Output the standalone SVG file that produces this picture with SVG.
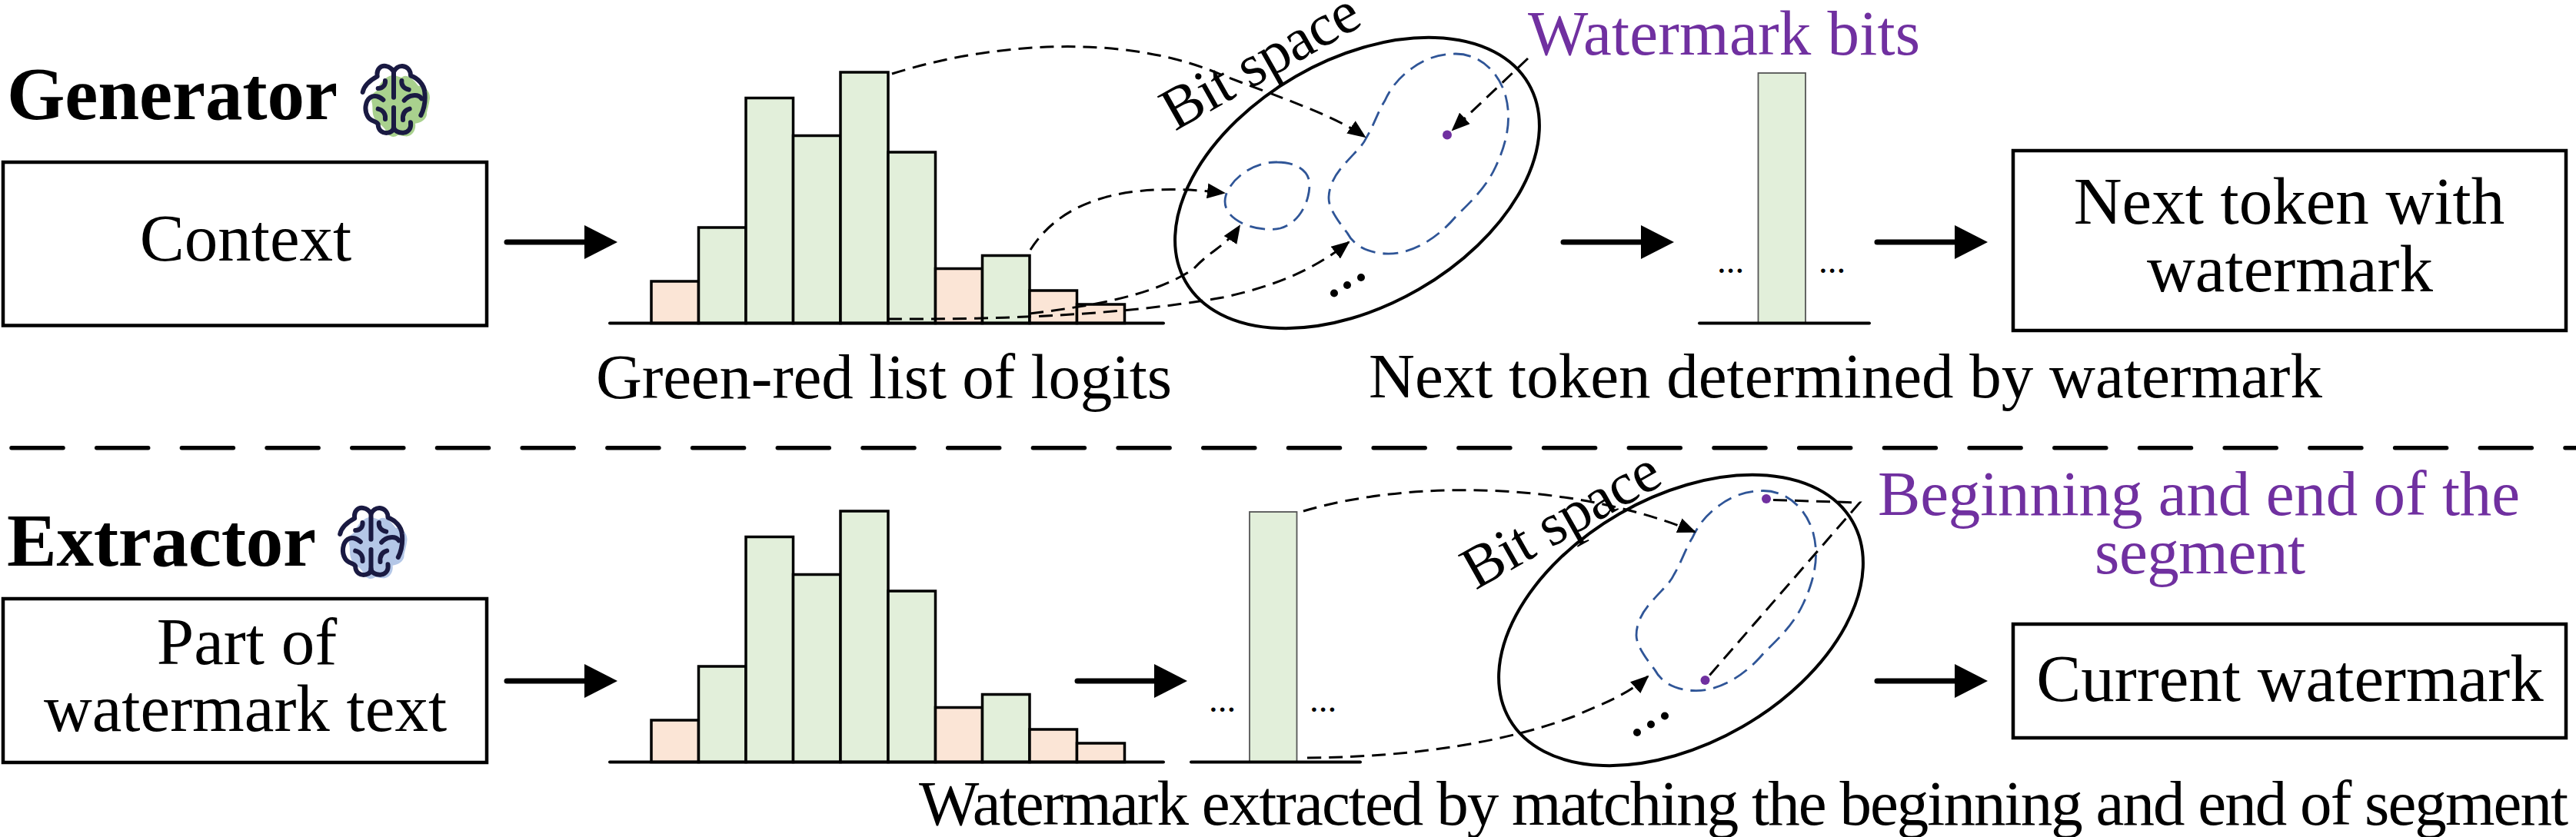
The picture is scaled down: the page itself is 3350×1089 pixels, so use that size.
<svg xmlns="http://www.w3.org/2000/svg" xmlns:xlink="http://www.w3.org/1999/xlink" width="3350" height="1089" viewBox="0 0 3350 1089">
<style>
text{font-family:"Liberation Serif","Times New Roman",serif;fill:#000}
.box{fill:#fff;stroke:#000;stroke-width:4.5}
.t87{font-size:87px;text-anchor:middle}
.cap{font-size:83px}
.bit{font-size:78px}
.head{font-size:97px;font-weight:bold}
.pur{fill:#7030A0;font-size:83px}
.g{fill:#E2EFDA;stroke:#000;stroke-width:3.5}
.o{fill:#FBE5D6;stroke:#000;stroke-width:3.5}
.sg{fill:#E2EFDA;stroke:#555;stroke-width:1.8}
.ax{fill:none;stroke:#000;stroke-width:4;stroke-linecap:round}
.ell{fill:none;stroke:#000;stroke-width:4}
.blue{fill:none;stroke:#2F5597;stroke-width:2.8;stroke-dasharray:20 10}
.dash{fill:none;stroke:#000;stroke-width:3;stroke-dasharray:18 10}
.arr{fill:none;stroke:#000;stroke-width:3;stroke-dasharray:18 10;marker-end:url(#tip)}
.big{fill:none;stroke:#000;stroke-width:7;stroke-linecap:round;marker-end:url(#bigtip)}
.brain{fill:none;stroke:#1A1A42;stroke-width:18;stroke-linecap:round;stroke-linejoin:round}
.dot{fill:#7030A0}
.blk{fill:#000}
.dots{font-size:47px}
</style>
<defs>
<marker id="tip" markerUnits="userSpaceOnUse" viewBox="0 0 24 20" markerWidth="24" markerHeight="20" refX="22" refY="10" orient="auto"><path d="M0,0L24,10L0,20Z" fill="#000"/></marker>
<marker id="bigtip" markerUnits="userSpaceOnUse" viewBox="0 0 43 44" markerWidth="43" markerHeight="44" refX="0" refY="22" orient="auto"><path d="M0,0L43,22L0,44Z" fill="#000"/></marker>
<g id="hist">
<rect class="o" x="847" y="366" width="61.5" height="54.5"/>
<rect class="g" x="908.5" y="296" width="61.5" height="124.5"/>
<rect class="g" x="970" y="127.5" width="61.5" height="293"/>
<rect class="g" x="1031.5" y="176.5" width="61.5" height="244"/>
<rect class="g" x="1093" y="94" width="62" height="326.5"/>
<rect class="g" x="1155" y="198" width="61.5" height="222.5"/>
<rect class="o" x="1216.5" y="349.5" width="61" height="71"/>
<rect class="g" x="1277.5" y="332.5" width="61.5" height="88"/>
<rect class="o" x="1339" y="378" width="61.5" height="42.5"/>
<rect class="o" x="1400.5" y="396" width="62" height="24.5"/>
<path class="ax" d="M793,420.500H1513"/>
</g>
<path id="blob" d="M205,85C225,78 240,98 250,90C275,75 300,110 312,125C340,125 362,150 356,180C353,200 348,215 345,230C348,255 320,270 300,272C305,300 285,325 262,322C245,320 238,315 232,318C215,330 195,322 188,305C180,285 160,275 146,258C130,240 135,215 132,195C125,170 130,155 150,145C160,115 185,90 205,85Z"/>
<g id="brainlines" class="brain">
<path d="M95,150C100,125 120,105 152,88C148,60 165,45 185,48C200,50 210,60 216,70C222,58 235,47 250,48C270,50 282,65 282,85C310,95 335,120 337,150C340,180 335,215 322,240"/>
<path d="M216,70V170"/>
<path d="M155,135C175,135 185,120 183,105"/>
<path d="M275,140C255,135 245,122 247,105"/>
<path d="M175,180C160,165 140,160 125,170C105,185 100,220 115,245C125,265 150,262 155,275C155,300 175,312 195,308C210,305 216,295 216,285V210"/>
<path d="M257,182C275,160 310,155 325,175"/>
<path d="M216,285C216,300 235,310 255,308C275,305 285,290 282,268"/>
<path d="M155,215C175,220 185,235 183,255"/>
<path d="M278,215C260,220 250,235 252,258"/>
</g>
<path id="bigblob" d="M1893,70C1925,70 1950,95 1958,125C1966,155 1960,185 1945,217C1932,245 1913,262 1893,282C1865,315 1830,332 1801,330C1775,328 1760,318 1752,303C1738,285 1728,270 1728,258C1728,240 1738,225 1749,213C1762,198 1772,190 1777,179C1788,160 1792,145 1801,131C1808,115 1820,100 1836,89C1850,78 1870,70 1893,70Z"/>
</defs>

<g id="generator-label">
<text class="head" x="9" y="155" textLength="430">Generator</text>
<g transform="translate(440,70) scale(.3333)"><use xlink:href="#blob" href="#blob" fill="#A9D18E"/><use xlink:href="#brainlines" href="#brainlines"/></g>
</g>
<g id="context"><rect class="box" x="4" y="211" width="629" height="212.500"/><text class="t87" x="319.500" y="339">Context</text></g>
<g id="logits-top"><use xlink:href="#hist" href="#hist"/><text class="cap" x="775" y="518" textLength="749">Green-red list of logits</text></g>
<g id="bitspace-top">
<ellipse class="ell" cx="1765" cy="238" rx="257.500" ry="160" transform="rotate(-30 1765 238)"/>
<use xlink:href="#bigblob" href="#bigblob" class="blue"/>
<path class="blue" d="M1661,211C1685,211 1703,222 1703,240C1703,262 1690,290 1665,297C1640,303 1593,290 1593,262C1593,240 1625,210 1661,211Z"/>
<ellipse class="dot" cx="1882" cy="175.500" rx="6" ry="6"/>
<circle class="blk" cx="1735" cy="381.500" r="5"/><circle class="blk" cx="1752" cy="371" r="5"/><circle class="blk" cx="1770" cy="361" r="5"/>
<text class="bit" x="1528" y="171" textLength="283" transform="rotate(-29.500 1528 171)">Bit space</text>
</g>
<g id="watermark-bits"><text class="pur" x="1987" y="71" textLength="510">Watermark bits</text></g>
<g id="token-bar">
<rect class="sg" x="2286.500" y="95" width="61.500" height="325"/>
<path class="ax" d="M2210,420.500H2431"/>
<text class="dots" x="2233" y="355">...</text><text class="dots" x="2365" y="355">...</text>
<text class="cap" x="1780" y="516.500" textLength="1240">Next token determined by watermark</text>
</g>
<g id="next-token"><rect class="box" x="2618" y="196" width="719" height="234"/><text class="t87" x="2977" y="291">Next token with</text><text class="t87" x="2978" y="379">watermark</text></g>

<g id="divider"><path d="M15,582.700H3350" fill="none" stroke="#000" stroke-width="5.500" stroke-linecap="round" stroke-dasharray="67 43.700"/></g>

<g id="extractor-label">
<text class="head" x="9" y="735.500" textLength="402">Extractor</text>
<g transform="translate(410.500,645) scale(.3333)"><use xlink:href="#blob" href="#blob" fill="#B4C7E7"/><use xlink:href="#brainlines" href="#brainlines"/></g>
</g>
<g id="part-of-text"><rect class="box" x="4" y="779" width="629" height="213"/><text class="t87" x="321" y="863.500">Part of</text><text class="t87" x="319" y="950.500">watermark text</text></g>
<g id="logits-bottom"><use xlink:href="#hist" href="#hist" y="571"/></g>
<g id="segment-bar">
<rect class="sg" x="1625" y="666" width="61.500" height="325"/>
<path class="ax" d="M1549,991.500H1769"/>
<text class="dots" x="1572" y="926">...</text><text class="dots" x="1703" y="926">...</text>
</g>
<g id="bitspace-bottom">
<ellipse class="ell" cx="2186" cy="807" rx="257.500" ry="160" transform="rotate(-30 2186 807)"/>
<use xlink:href="#bigblob" href="#bigblob" class="blue" x="400" y="568.500"/>
<ellipse class="dot" cx="2297" cy="649" rx="6" ry="6"/>
<ellipse class="dot" cx="2217.500" cy="885" rx="6" ry="6"/>
<circle class="blk" cx="2129" cy="953" r="5"/><circle class="blk" cx="2147" cy="942.500" r="5"/><circle class="blk" cx="2165" cy="931.500" r="5"/>
<text class="bit" x="1919" y="768" textLength="283" transform="rotate(-29.500 1919 768)">Bit space</text>
</g>
<g id="segment-label"><text class="pur" x="2442" y="670" textLength="835">Beginning and end of the</text><text class="pur" x="2724" y="746" textLength="274">segment</text></g>
<g id="current-watermark"><rect class="box" x="2618" y="812" width="719" height="148"/><text class="t87" x="2978" y="911.500">Current watermark</text></g>
<text class="cap" x="1195" y="1072.500" textLength="2145">Watermark extracted by matching the beginning and end of segment</text>

<g id="connectors">
<path class="big" d="M659,315H760"/>
<path class="big" d="M2033,315H2134"/>
<path class="big" d="M2441,315H2542"/>
<path class="big" d="M659,886H760"/>
<path class="big" d="M1401,886H1501"/>
<path class="big" d="M2441,886H2542"/>
<path class="arr" d="M1160,96C1300,52 1470,45 1590,98C1660,125 1735,150 1775,178"/>
<path class="arr" d="M1340,325C1380,262 1460,235 1592,251"/>
<path class="arr" d="M1339,408C1420,398 1500,385 1552,350C1575,325 1595,320 1612,294"/>
<path class="arr" d="M1155,415C1300,416 1460,410 1590,387C1660,372 1710,350 1754,315"/>
<path class="arr" d="M1987,76L1889,169"/>
<path class="arr" d="M1695,665C1830,625 2040,625 2204,692"/>
<path class="arr" d="M1700,986C1840,985 1960,965 2047,932C2085,915 2115,905 2143,880"/>
<path class="dash" d="M2306,650.500L2418.500,654L2222,880"/>
</g>
</svg>
